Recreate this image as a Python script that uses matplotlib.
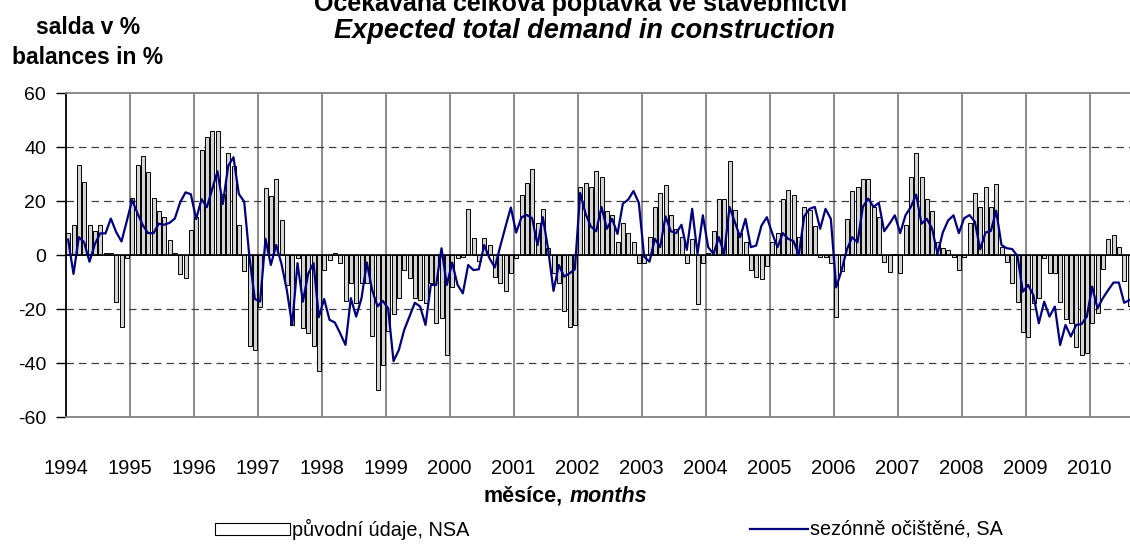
import numpy as np
import matplotlib.pyplot as plt
from matplotlib.patches import Rectangle
from matplotlib.lines import Line2D

plt.rcParams['font.family'] = ['Liberation Sans', 'DejaVu Sans']

# roky na ose x
years = [str(y) for y in range(1994, 2011)]

# puvodni udaje, NSA (mesicne, 1994/01 - 2010/08)
nsa = [
    8, 11, 33.5, 27, 11, 9, 11, 0.6, 0.6, -17.5, -26.5, -1,            # 1994
    21, 33.5, 36.6, 30.6, 21, 16.4, 14, 5.7, 0.6, -7, -8.4, 9.4,       # 1995
    14, 39, 43.6, 45.8, 45.8, 22.6, 37.8, 33, 11, -6, -33.6, -35.2,    # 1996
    -19.4, 25, 22, 28, 13, -11, -26, -1, -27, -29, -33.6, -43,         # 1997
    -5.5, -2, 0.9, -3.1, -17, -10.2, -17.9, -10.2, -10.2, -30, -50, -40.7,  # 1998
    -28, -22, -16, -5.6, -8.6, -16, -16.7, -17.7, -10.5, -25, -23.5, -37,   # 1999
    -11.7, -1, -0.6, 17, 6.2, -2.2, 6.2, 3.7, -8, -10.5, -13.3, -6.8,  # 2000
    -1, 22.2, 26.8, 31.7, 12, 17, 2.5, -6.8, -10.5, -20.7, -26.5, -26, # 2001
    25.2, 26.7, 25.2, 31.2, 29, 16.3, 14.7, 5, 12, 8, 5, -3,           # 2002
    -3, 6.6, 17.8, 23, 25.8, 14.7, 9.7, 6.6, -3, 6, -18, -3,           # 2003
    0.6, 8.8, 20.9, 20.9, 34.9, 16.5, 8, 4.7, -5.6, -8.3, -8.9, -4,    # 2004
    5, 8.1, 20.9, 24, 22.4, 6.6, 17.8, 16.8, 10.9, -0.9, -0.9, -3,     # 2005
    -23, -5.8, 13.4, 23.7, 25.2, 28.3, 28.3, 17.8, 14, -2.7, -6.2, 0.4,  # 2006
    -6.8, 11.2, 29, 37.9, 29, 20.9, 16.3, 5, 2.5, 1.9, -0.9, -5.6,     # 2007
    -0.6, 12, 23, 17.9, 25.3, 17.9, 26.2, 3, -2.5, -10.2, -17.3, -28.4,  # 2008
    -30.5, -17.9, -16, -1, -6.8, -6.8, -17.3, -23.8, -25.3, -34, -37, -36.4,  # 2009
    -25.3, -21.6, -5.3, 5.8, 7.4, 3.1, -9.6, -19,                      # 2010
]

# sezonne ocistene, SA
sa = [
    5.7, -7, 6.6, 4.7, -2.5, 4, 8, 8, 13.5, 8.5, 5, 12.6,              # 1994
    20.4, 15.4, 11, 8.1, 8.1, 11.6, 11.2, 11.9, 13.5, 19.5, 23.2, 22.5,  # 1995
    13.3, 20.7, 17.7, 24.4, 31, 18.9, 33, 36.2, 22.6, 19.8, -1, -16.3,   # 1996
    -17.2, 6, -3.7, 3.7, -3.3, -13, -26, -3, -17.3, -7, -3, -23,       # 1997
    -16.3, -24, -25, -29, -33.3, -16, -22.8, -16, -2.8, -13, -19, -17, # 1998
    -19.8, -39.3, -35.2, -27.8, -22.8, -17.7, -19.1, -25.9, -11.1, -11.1, 2.5, -11.1,  # 1999
    -2.8, -11, -14.2, -3.7, -5.6, -5.3, 3.7, -1.2, -4.6, 3.1, 10.5, 17.6,  # 2000
    8.3, 14, 14.8, 13.6, 3.7, 14, 2.1, -13.3, -3.7, -8, -6.8, -5.3,    # 2001
    23, 15.3, 10.6, 8.8, 17.8, 9.7, 13.4, 7.8, 19, 20.5, 23.7, 19.3,   # 2002
    -0.6, -2.5, 6, 2.9, 14.3, 8.8, 8.1, 11.2, 1.9, 17.1, 0.4, 14.7,    # 2003
    2.9, 0.4, 6.6, 0.4, 17.8, 12.2, 6.6, 13.4, 2.9, 3.5, 10.9, 14,     # 2004
    8.1, 2.9, 8.1, 6, 5.1, 0, 14.3, 17.1, 17.8, 9.7, 17.1, 13.4,       # 2005
    -12, -5.8, 2, 6.6, 4.7, 17.8, 20.9, 17.8, 19.3, 8.8, 11.6, 14.7,   # 2006
    8.1, 14.7, 17.8, 22.4, 11.6, 13.4, 9.7, 0.4, 8.4, 12.8, 14.7, 8.1, # 2007
    13.6, 14.8, 12.3, 2.1, 8.3, 8.9, 16.4, 3.7, 2.5, 2.2, -0.4, -13.6, # 2008
    -11.1, -15, -25.3, -17.3, -22.8, -19.1, -33.3, -25.9, -30.2, -25.9, -25.6, -22.8,  # 2009
    -11.7, -19.8, -16, -13, -10.2, -10.2, -17.7, -16.7,                # 2010
]

yticks = [-60, -40, -20, 0, 20, 40, 60]

W, H = 1130, 546
fig = plt.figure(figsize=(W / 100, H / 100), dpi=100)
n = len(nsa)
slot = 64.0 / 12
ax = fig.add_axes([65.5 / W, 1 - 417 / H, n * slot / W, 324 / H])

x = np.arange(n) + 0.5
ax.bar(x, nsa, width=0.75, facecolor='#d4d4d4', edgecolor='black', linewidth=0.7, zorder=3)
ax.plot(x, sa, color='#000080', linewidth=1.6, zorder=5)
ax.axhline(0, color='black', linewidth=1.2, zorder=4)

ax.set_xlim(0, n)
ax.set_ylim(-60, 60)

# mrizka
for k in range(1, len(years)):
    ax.axvline(12 * k, color='#808080', linewidth=1.3, zorder=1)
for v in [-40, -20, 20, 40]:
    ax.axhline(v, color='#404040', linewidth=0.9, dashes=(6, 4), zorder=1)

for s in ['top', 'bottom']:
    ax.spines[s].set_color('#808080')
    ax.spines[s].set_linewidth(1.3)
ax.spines['right'].set_visible(False)
ax.spines['left'].set_color('black')
ax.spines['left'].set_linewidth(1.3)

ax.set_yticks(yticks)
ax.set_yticklabels([str(v) for v in yticks])
ax.tick_params(axis='y', direction='out', length=7, width=1, labelsize=14, pad=7)
ax.set_xticks([12 * k for k in range(len(years))])
ax.set_xticklabels(years)
ax.tick_params(axis='x', length=0, labelsize=14.5, pad=30)

# nadpisy
fig.text(581 / W, 1 - 3 / H, 'Očekávaná celková poptávka ve stavebnictví',
         ha='center', va='center', fontsize=18, fontweight='bold')
fig.text(584 / W, 1 - 31 / H, 'Expected total demand in construction',
         ha='center', va='center', fontsize=19.5, fontweight='bold', style='italic')
fig.text(88 / W, 1 - 27 / H, 'salda v %', ha='center', va='center',
         fontsize=16.5, fontweight='bold')
fig.text(88 / W, 1 - 57 / H, 'balances in %', ha='center', va='center',
         fontsize=16.5, fontweight='bold')

fig.text(563 / W, 1 - 496 / H, 'měsíce,', ha='right', va='center',
         fontsize=15.5, fontweight='bold')
fig.text(570 / W, 1 - 496 / H, 'months', ha='left', va='center',
         fontsize=15.5, fontweight='bold', style='italic')

# legenda
fig.add_artist(Rectangle((215 / W, 1 - 535 / H), 75 / W, 12 / H,
                         facecolor='white', edgecolor='black', linewidth=0.8,
                         transform=fig.transFigure))
fig.text(292 / W, 1 - 529 / H, 'původní údaje, NSA', ha='left', va='center', fontsize=14.3)
fig.add_artist(Line2D([750 / W, 808 / W], [1 - 529 / H, 1 - 529 / H],
                      color='#000080', linewidth=1.6, transform=fig.transFigure))
fig.text(810 / W, 1 - 529 / H, 'sezónně očištěné, SA', ha='left', va='center', fontsize=14.3)

fig.savefig('out.png', dpi=100)
